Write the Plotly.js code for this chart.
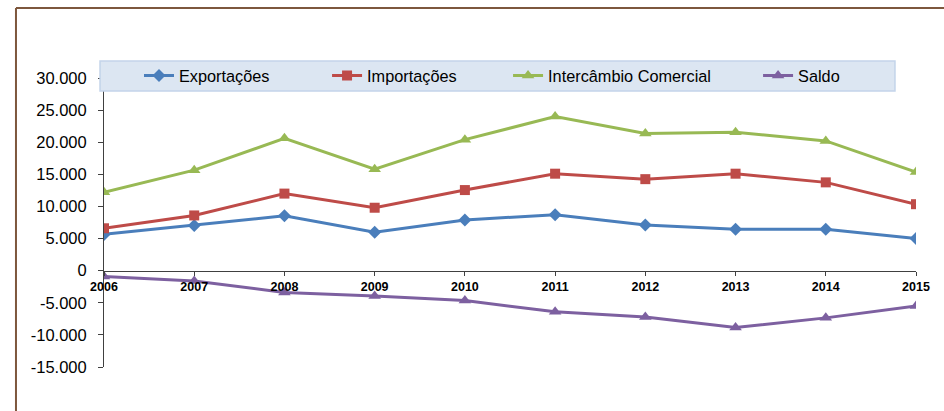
<!DOCTYPE html>
<html>
<head>
<meta charset="utf-8">
<script src="https://cdn.plot.ly/plotly-3.0.1.min.js"></script>
<style>
  html, body { margin: 0; padding: 0; background: #ffffff; }
  #chart { width: 944px; height: 411px; }
</style>
</head>
<body>
<div id="chart"></div>
<script>
// Balança comercial 2006–2015 (valores em milhões)
const anos = ["2006", "2007", "2008", "2009", "2010", "2011", "2012", "2013", "2014", "2015"];
const exportacoes = [5650, 7050, 8550, 6000, 7900, 8700, 7100, 6450, 6450, 5000];
const importacoes = [6600, 8600, 12000, 9800, 12550, 15100, 14250, 15100, 13750, 10350];
const intercambio = [12200, 15650, 20600, 15800, 20400, 24000, 21350, 21550, 20200, 15350];
const saldo = [-900, -1600, -3400, -3950, -4650, -6400, -7200, -8850, -7350, -5500];

const yTickVals = [-15000, -10000, -5000, 0, 5000, 10000, 15000, 20000, 25000, 30000];
const yTickText = ["-15.000", "-10.000", "-5.000", "0", "5.000", "10.000", "15.000", "20.000", "25.000", "30.000"];

const FONT = "Liberation Sans, Arial, sans-serif";
const idx = anos.map((_, i) => i);

function serie(nome, valores, cor, simbolo, tamanho, legenda) {
  return {
    type: "scatter",
    mode: "lines+markers",
    name: nome,
    x: idx,
    y: valores,
    line: { color: cor, width: 3 },
    marker: { color: cor, symbol: simbolo, size: tamanho },
    legend: legenda,
    hoverinfo: "skip"
  };
}

const traces = [
  serie("Exportações", exportacoes, "#4A7EBB", "diamond", 10, "legend"),
  serie("Importações", importacoes, "#BE4B48", "square", 10, "legend2"),
  serie("Intercâmbio Comercial", intercambio, "#98B954", "triangle-up", 11, "legend3"),
  serie("Saldo", saldo, "#7D60A0", "triangle-up", 11, "legend4")
];

const yRange = [-15000, 30000];
const zeroPos = (0 - yRange[0]) / (yRange[1] - yRange[0]);
const axisColor = "#404040";

function legendaEm(x) {
  return {
    x: x, xanchor: "left", y: 1.007, yanchor: "middle",
    orientation: "h", bgcolor: "rgba(0,0,0,0)", borderwidth: 0,
    font: { family: FONT, size: 16.3, color: "#000000" }
  };
}

const layout = {
  width: 944,
  height: 411,
  margin: { l: 104, r: 28, t: 78, b: 44 },
  paper_bgcolor: "#ffffff",
  plot_bgcolor: "#ffffff",
  showlegend: true,
  legend: legendaEm(0.0431),
  legend2: legendaEm(0.2747),
  legend3: legendaEm(0.4976),
  legend4: legendaEm(0.8055),
  xaxis: {
    type: "linear",
    range: [0, anos.length - 1],
    tickmode: "array",
    tickvals: idx,
    ticktext: anos,
    anchor: "free",
    position: zeroPos,
    showline: true, linecolor: axisColor, linewidth: 1,
    ticks: "outside", ticklen: 4, tickcolor: axisColor, tickwidth: 1,
    showgrid: false, zeroline: false,
    tickfont: { family: FONT, size: 12.5, color: "#000000", weight: "bold" },
    ticklabelstandoff: 0,
    fixedrange: true
  },
  xaxis2: {
    overlaying: "x",
    range: [0, anos.length - 1],
    tickmode: "array",
    tickvals: idx,
    anchor: "free",
    position: zeroPos,
    showline: false, showgrid: false, zeroline: false,
    ticks: "inside", ticklen: 4, tickcolor: axisColor, tickwidth: 1,
    showticklabels: false,
    fixedrange: true
  },
  yaxis: {
    range: yRange,
    tickmode: "array",
    tickvals: yTickVals,
    ticktext: yTickText,
    showline: true, linecolor: axisColor, linewidth: 1,
    ticks: "outside", ticklen: 5, tickcolor: axisColor, tickwidth: 1,
    showgrid: false, zeroline: false,
    tickfont: { family: FONT, size: 16.5, color: "#000000" },
    ticklabelstandoff: 8,
    fixedrange: true
  },
  yaxis2: {
    overlaying: "y",
    range: yRange,
    tickmode: "array",
    tickvals: yTickVals,
    showline: false, showgrid: false, zeroline: false,
    ticks: "inside", ticklen: 5, tickcolor: axisColor, tickwidth: 1,
    showticklabels: false,
    fixedrange: true
  },
  shapes: [
    // caixa da legenda
    {
      type: "rect", xref: "paper", yref: "paper", layer: "above",
      x0: -0.0049, x1: 0.9741, y0: 0.955, y1: 1.0588,
      fillcolor: "#DCE6F2", line: { color: "#C3D4EA", width: 1.5 }
    },
    // moldura da área do gráfico
    {
      type: "line", xref: "paper", yref: "paper", layer: "above",
      x0: -0.1084, x1: 1.05, y0: 1.2422, y1: 1.2422,
      line: { color: "#7D573D", width: 2 }
    },
    {
      type: "line", xref: "paper", yref: "paper", layer: "above",
      x0: -0.1084, x1: -0.1084, y0: 1.2422, y1: -0.2,
      line: { color: "#7D573D", width: 2 }
    }
  ]
};

Plotly.newPlot("chart", traces, layout, { displayModeBar: false, staticPlot: true });
</script>
</body>
</html>
